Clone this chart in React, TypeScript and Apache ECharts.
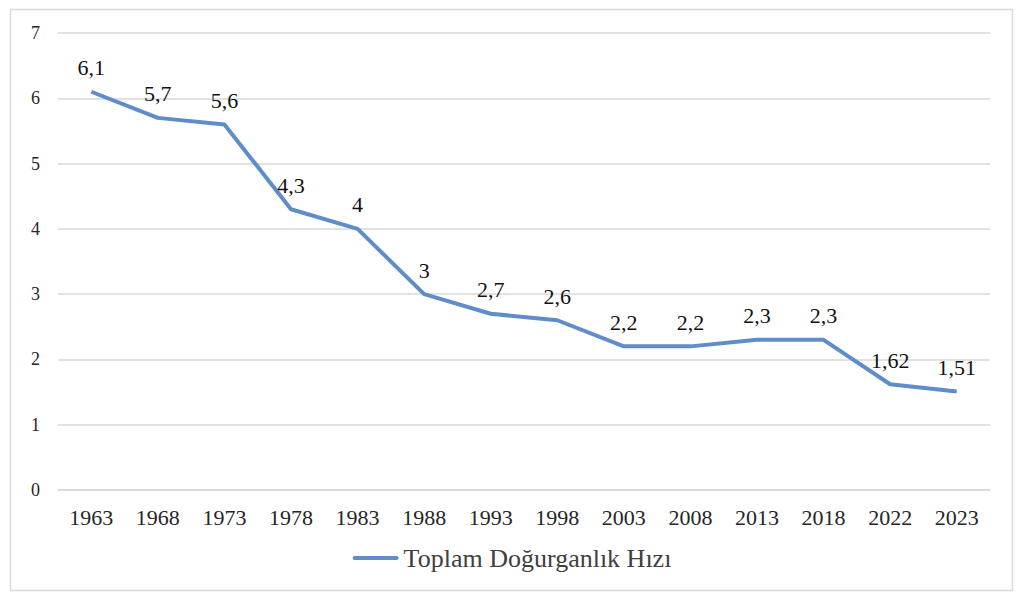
import React, { useEffect, useRef } from "react";
import * as echarts from "echarts";

const categories = ["1963", "1968", "1973", "1978", "1983", "1988", "1993", "1998", "2003", "2008", "2013", "2018", "2022", "2023"];
const values = [6.1, 5.7, 5.6, 4.3, 4.0, 3.0, 2.7, 2.6, 2.2, 2.2, 2.3, 2.3, 1.62, 1.51];
const seriesName = "Toplam Doğurganlık Hızı";

const FONT = "Liberation Serif";

export default function App() {
  const ref = useRef<HTMLDivElement>(null);
  useEffect(() => {
    if (!ref.current) return;
    const chart = echarts.init(ref.current, null, { renderer: "svg" });
    chart.setOption({
      animation: false,
      backgroundColor: "#ffffff",
      textStyle: { fontFamily: FONT },
      graphic: [
        {
          type: "rect",
          shape: { x: 10.5, y: 9.5, width: 1002, height: 581 },
          style: { fill: "none", stroke: "#d9d9d9", lineWidth: 1.5 },
          silent: true,
        },
      ],
      grid: { left: 58, right: 34, top: 33, bottom: 114, containLabel: false },
      legend: {
        bottom: 28,
        left: "center",
        itemWidth: 46,
        itemHeight: 4,
        itemGap: 6,
        textStyle: { fontFamily: FONT, fontSize: 26, color: "#404040" },
        data: [
          {
            name: seriesName,
            icon: "path://M2,0 L44,0 A2,2 0 0 1 44,4 L2,4 A2,2 0 0 1 2,0 Z",
            itemStyle: { color: "#5f8dc9", opacity: 1 },
          },
        ],
      },
      xAxis: {
        type: "category",
        data: categories,
        boundaryGap: true,
        axisLine: { show: true, lineStyle: { color: "#d9d9d9", width: 1.5 } },
        axisTick: { show: false },
        axisLabel: { fontFamily: FONT, fontSize: 22, color: "#262626", margin: 16 },
      },
      yAxis: {
        type: "value",
        min: 0,
        max: 7,
        interval: 1,
        axisLine: { show: false },
        axisTick: { show: false },
        splitLine: { lineStyle: { color: "#d9d9d9", width: 1.5 } },
        axisLabel: { fontFamily: FONT, fontSize: 18, color: "#262626", margin: 18 },
      },
      series: [
        {
          name: seriesName,
          type: "line",
          data: values,
          symbol: "none",
          lineStyle: { color: "#5f8dc9", width: 4 },
          itemStyle: { color: "#5f8dc9" },
          z: 2,
        },
        {
          name: "labels",
          type: "custom",
          data: values.map((v, i) => [i, v]),
          encode: { x: 0, y: 1 },
          silent: true,
          clip: false,
          z: 3,
          renderItem: (params: any, api: any) => {
            const v = api.value(1);
            const pt = api.coord([api.value(0), v]);
            return {
              type: "text",
              x: pt[0],
              y: pt[1] - 13,
              style: {
                text: String(v).replace(".", ","),
                fontFamily: FONT,
                fontSize: 22,
                fill: "#111111",
                align: "center",
                verticalAlign: "bottom",
              },
            };
          },
        },
      ],
    });
    return () => chart.dispose();
  }, []);
  return (
    <div
      ref={ref}
      style={{ position: "fixed", left: 0, top: 0, width: 1024, height: 604 }}
    />
  );
}
